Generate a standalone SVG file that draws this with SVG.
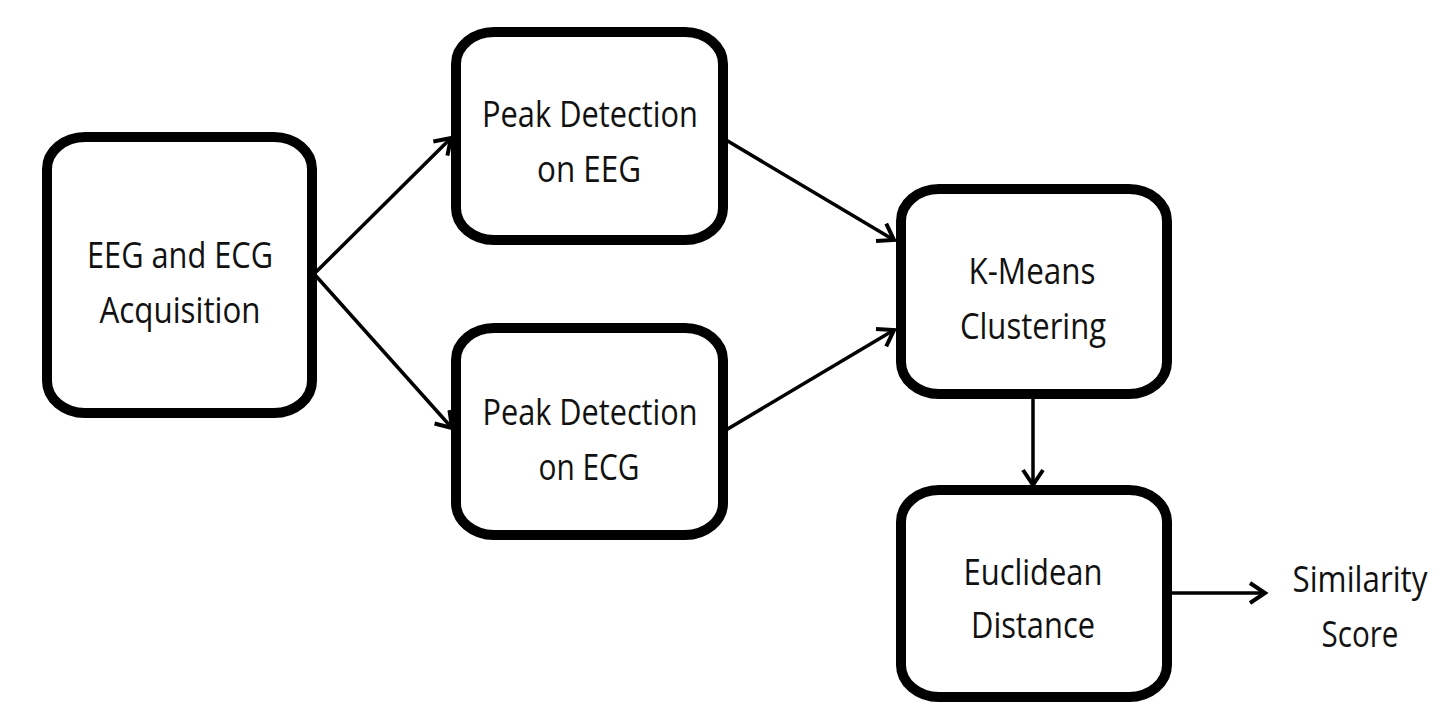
<svg xmlns="http://www.w3.org/2000/svg" width="1449" height="719" viewBox="0 0 1449 719">
  <style>
    .box { fill: #ffffff; stroke: #000000; stroke-width: 10; }
    .lbl { font-family: "Open Sans", "Liberation Sans", sans-serif; font-size: 36px; fill: #111111; text-anchor: middle; }
    .conn { stroke: #000000; stroke-width: 3.5; fill: none; marker-end: url(#arrow); }
  </style>
  <defs>
    <marker id="arrow" markerUnits="userSpaceOnUse" markerWidth="24" markerHeight="26" viewBox="-2 -13 22 26" refX="16" refY="0" orient="auto">
      <path d="M1,-10 L16,0 L1,10" fill="none" stroke="#000000" stroke-width="4" stroke-linejoin="miter"/>
    </marker>
  </defs>
  <rect width="1449" height="719" fill="#ffffff"/>
  <g id="connectors">
    <line class="conn" x1="316" y1="272" x2="451" y2="138"/>
    <line class="conn" x1="316" y1="276" x2="452" y2="428"/>
    <line class="conn" x1="726" y1="140" x2="894" y2="240"/>
    <line class="conn" x1="726" y1="430" x2="894" y2="330"/>
    <line class="conn" x1="1033" y1="397" x2="1033" y2="485"/>
    <line class="conn" x1="1170" y1="593" x2="1265" y2="593"/>
  </g>
  <g id="acquisition">
    <rect class="box" x="47" y="137" width="265" height="276" rx="38" ry="32"/>
    <text class="lbl" x="180" y="268" textLength="186" lengthAdjust="spacingAndGlyphs">EEG and ECG</text>
    <text class="lbl" x="180" y="323" textLength="161" lengthAdjust="spacingAndGlyphs">Acquisition</text>
  </g>
  <g id="peak-eeg">
    <rect class="box" x="456" y="32" width="267" height="208" rx="38" ry="32"/>
    <text class="lbl" x="590" y="127" textLength="216" lengthAdjust="spacingAndGlyphs">Peak Detection</text>
    <text class="lbl" x="589" y="182" textLength="104" lengthAdjust="spacingAndGlyphs">on EEG</text>
  </g>
  <g id="peak-ecg">
    <rect class="box" x="456" y="328" width="267" height="207" rx="38" ry="32"/>
    <text class="lbl" x="590" y="425" textLength="215" lengthAdjust="spacingAndGlyphs">Peak Detection</text>
    <text class="lbl" x="589" y="480" textLength="101" lengthAdjust="spacingAndGlyphs">on ECG</text>
  </g>
  <g id="kmeans">
    <rect class="box" x="901" y="189" width="266" height="205" rx="38" ry="32"/>
    <text class="lbl" x="1032" y="284" textLength="127" lengthAdjust="spacingAndGlyphs">K-Means</text>
    <text class="lbl" x="1033" y="339" textLength="146" lengthAdjust="spacingAndGlyphs">Clustering</text>
  </g>
  <g id="euclidean">
    <rect class="box" x="901" y="490" width="266" height="207" rx="38" ry="32"/>
    <text class="lbl" x="1033" y="585" textLength="139" lengthAdjust="spacingAndGlyphs">Euclidean</text>
    <text class="lbl" x="1033" y="638" textLength="124" lengthAdjust="spacingAndGlyphs">Distance</text>
  </g>
  <g id="similarity">
    <text class="lbl" x="1360" y="592" textLength="135" lengthAdjust="spacingAndGlyphs">Similarity</text>
    <text class="lbl" x="1360" y="647" textLength="77" lengthAdjust="spacingAndGlyphs">Score</text>
  </g>
</svg>
